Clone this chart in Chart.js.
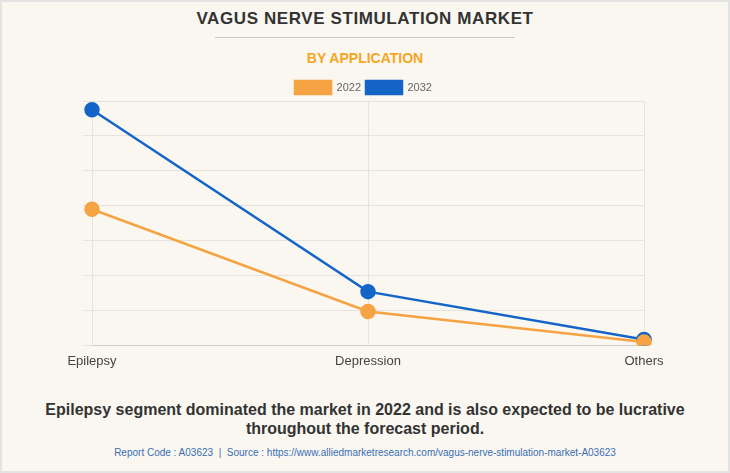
<!DOCTYPE html>
<html>
<head>
<meta charset="utf-8">
<script src="https://cdn.jsdelivr.net/npm/chart.js@4.4.1/dist/chart.umd.min.js"></script>
<style>
  html, body { margin: 0; padding: 0; }
  body {
    width: 730px; height: 473px; overflow: hidden;
    background: #f9f7f0; font-family: "Liberation Sans", Arial, sans-serif;
  }
  .frame {
    position: absolute; left: 0; top: 0; width: 726px; height: 469px;
    border: 2px solid #e3e3e3; background: #f9f7f0;
  }
  .title {
    position: absolute; top: 9px; left: 0; width: 730px; text-align: center;
    font-size: 17px; font-weight: bold; color: #333; letter-spacing: 0.6px;
  }
  .rule {
    position: absolute; top: 37px; left: 215px; width: 300px; height: 1px; background: #c8c8c8;
  }
  .subtitle {
    position: absolute; top: 50px; left: 0; width: 730px; text-align: center;
    font-size: 14px; font-weight: bold; color: #f5a623;
  }
  .chart-box { position: absolute; left: 0; top: 76px; width: 730px; height: 301px; }
  .note {
    position: absolute; top: 400px; left: 0; width: 730px; text-align: center;
    font-size: 16px; font-weight: bold; color: #333; line-height: 19px;
  }
  .source {
    position: absolute; top: 447px; left: 0; width: 730px; text-align: center;
    font-size: 10px; color: #3a6db5;
  }
</style>
</head>
<body>
<div class="frame"></div>
<div class="title">VAGUS NERVE STIMULATION MARKET</div>
<div class="rule"></div>
<div class="subtitle">BY APPLICATION</div>
<div class="chart-box"><canvas id="chart"></canvas></div>
<div class="note">Epilepsy segment dominated the market in 2022 and is also expected to be lucrative<br>throughout the forecast period.</div>
<div class="source">Report Code : A03623 &nbsp;|&nbsp; Source : https://www.alliedmarketresearch.com/vagus-nerve-stimulation-market-A03623</div>

<script>
// ----- Data -----
const categories = ["Epilepsy", "Depression", "Others"];
const values2022 = [3.9, 0.97, 0.1];
const values2032 = [6.75, 1.54, 0.17];

const orange = "#f5a343";
const blue = "#1565c8";

const ctx = document.getElementById("chart");

// shave a few pixels off the legend block so the plot starts closer to it
const tightLegend = {
  id: "tightLegend",
  beforeInit(chart) {
    const fit = chart.legend.fit;
    chart.legend.fit = function () {
      fit.call(this);
      this.height -= 3;
    };
  },
};

new Chart(ctx, {
  type: "line",
  data: {
    labels: categories,
    datasets: [
      {
        label: "2022",
        data: values2022,
        borderColor: orange,
        backgroundColor: orange,
        borderWidth: 2.5,
        pointRadius: 6.5,
        pointHoverRadius: 6.5,
        tension: 0,
      },
      {
        label: "2032",
        data: values2032,
        borderColor: blue,
        backgroundColor: blue,
        borderWidth: 2.5,
        pointRadius: 6.5,
        pointHoverRadius: 6.5,
        tension: 0,
      },
    ],
  },
  options: {
    responsive: true,
    maintainAspectRatio: false,
    animation: false,
    layout: { padding: { left: 83, right: 86, top: 0, bottom: 0 } },
    plugins: {
      title: { display: false },
      tooltip: { enabled: false },
      legend: {
        display: true,
        position: "top",
        labels: {
          boxWidth: 36,
          boxHeight: 13,
          padding: 5,
          color: "#666",
          font: { size: 11, family: "Liberation Sans" },
        },
      },
    },
    scales: {
      x: {
        offset: false,
        grid: { color: "#e6e3dc", drawTicks: false },
        border: { color: "#cfcdc8" },
        ticks: { color: "#444", padding: 8, font: { size: 13, family: "Liberation Sans" } },
      },
      y: {
        min: 0,
        max: 7,
        ticks: { display: false, stepSize: 1 },
        grid: { color: "#e6e3dc", tickLength: 9 },
        border: { display: false },
      },
    },
  },
  plugins: [tightLegend],
});
</script>
</body>
</html>
